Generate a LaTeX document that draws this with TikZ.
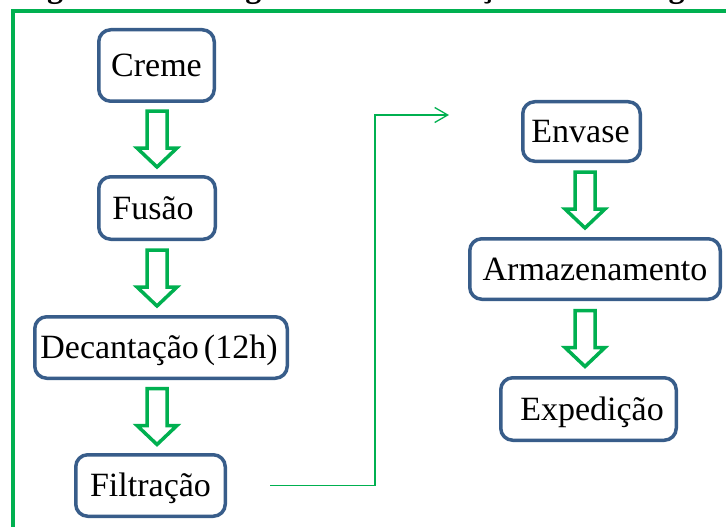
\documentclass[tikz,border=0pt]{standalone}
\usepackage{fontspec}
\setmainfont{Liberation Serif}
\usetikzlibrary{calc,arrows.meta}
\definecolor{boxblue}{RGB}{56,93,138}
\definecolor{flowgreen}{RGB}{0,176,80}
\begin{document}
\begin{tikzpicture}[x=1pt,y=-1pt,
  stepbox/.style={draw=boxblue,line width=3.5pt,rounded corners=12pt,fill=white,
    inner sep=0pt,text height=22.5pt,text depth=0pt,align=center,
    font=\fontsize{34}{40}\selectfont},
  link/.style={draw=flowgreen,line width=1.5pt},
  blockdown/.pic={
    \draw[flowgreen,line width=3.5pt,line join=miter,fill=white]
      (-10,-28) -- (10,-28) -- (10,9) -- (20,9) -- (0,28) -- (-20,9) -- (-10,9) -- cycle;
  }]
\useasboundingbox (0,0) rectangle (726,527);
\clip (0,0) rectangle (726,527);

% caption above the frame
\node[anchor=base west,inner sep=0pt,font=\fontsize{32}{36}\selectfont\bfseries]
  (title) at (18.6,-2) {Figura 1 – Fluxograma de fabricação de manteiga};

% outer frame
\draw[flowgreen,line width=4pt] (12.5,545) -- (12.5,11.5) -- (745,11.5);

% process steps
\node[stepbox,minimum width=115.5pt,minimum height=71.5pt] (creme) at (156.5,65.5) {Creme};
\node[stepbox,minimum width=116.5pt,minimum height=62.5pt] (fusao) at (157,208) {Fusão\kern8pt};
\node[stepbox,minimum width=252.5pt,minimum height=61.5pt] (dec) at (161,347.5) {Decantação\kern5pt(12h)\kern4pt};
\node[stepbox,minimum width=149.5pt,minimum height=61.5pt] (filt) at (150.5,485.5) {Filtração};
\node[stepbox,minimum width=117.5pt,minimum height=59.5pt] (envase) at (581.5,131.5) {Envase\kern2pt};
\node[stepbox,minimum width=250.5pt,minimum height=60.5pt] (armaz) at (595,269) {Armazenamento};
\node[stepbox,minimum width=175.5pt,minimum height=62.5pt] (exped) at (588.5,409) {\kern7pt Expedição};

% arrow columns
\coordinate (colL) at (157,0);
\coordinate (colR) at (585,0);
\coordinate (m1) at ($(creme.south)!.5!(fusao.north)$);
\coordinate (m2) at ($(fusao.south)!.5!(dec.north)$);
\coordinate (m3) at ($(dec.south)!.5!(filt.north)$);
\coordinate (m4) at ($(envase.south)!.5!(armaz.north)$);
\coordinate (m5) at ($(armaz.south)!.5!(exped.north)$);

\pic at (colL |- m1) {blockdown};
\pic at (colL |- m2) {blockdown};
\pic at (colL |- m3) {blockdown};
\pic at (colR |- m4) {blockdown};
\pic at (colR |- m5) {blockdown};

% link from the first column to the second
\coordinate (c0) at ([xshift=43pt]filt.east);
\coordinate (turn) at (375,115);
\coordinate (c1) at (449,115);
\draw[link,-{Straight Barb[length=13pt,width=15pt,line width=1.3pt]}] (c0) -| (turn) -- (c1);
\end{tikzpicture}
\end{document}
